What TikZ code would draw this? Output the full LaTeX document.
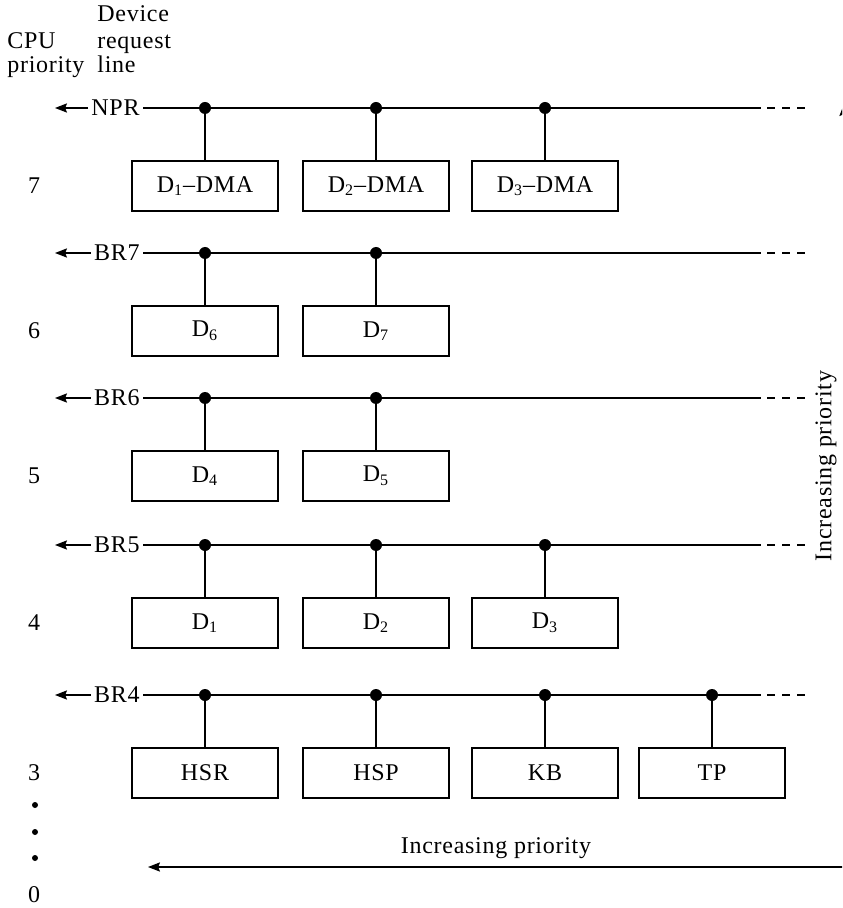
\documentclass[tikz,border=0pt]{standalone}
\usepackage{fontspec}
\setmainfont{Liberation Serif}[LetterSpace=3]
\usetikzlibrary{arrows.meta}

\tikzset{
  dev/.style={draw,line width=.7pt,minimum width=73pt,minimum height=25pt,inner sep=0pt},
  bus/.style={line width=.7pt},
  reqlabel/.style={anchor=east,inner sep=1.5pt},
  reqarrow/.style={line width=.7pt,-{Stealth[length=6pt,width=4.6pt,inset=.9pt]}},
  tapdot/.style={fill=black}
}

\begin{document}
\begin{tikzpicture}[x=0.5pt,y=-0.5pt,font=\fontsize{12}{14}\selectfont]
      \useasboundingbox (0,0) rectangle (842,908);
      \clip (0,0) rectangle (842,908);
      % column heads
      \node[anchor=base west,inner sep=0pt] (cpu) at (7,49) {CPU};
      \node[anchor=base west,inner sep=0pt] (cpuprio) at (7,73) {priority};
      \node[anchor=base west,inner sep=0pt] (head1) at (97,22) {Device};
      \node[anchor=base west,inner sep=0pt] (head2) at (97,49) {request};
      \node[anchor=base west,inner sep=0pt] (head3) at (97,73) {line};
      % request lines
      \foreach \y/\req/\pri [count=\r] in {108/NPR/7,253/BR7/6,398/BR6/5,545/BR5/4,695/BR4/3} {
        \node[reqlabel] (req\r) at (143,\y) {\req};
        \coordinate (reqend\r) at (55,\y);
        \coordinate (solid\r) at (761,\y);
        \coordinate (dashA\r) at (767,\y);
        \coordinate (dashB\r) at (806,\y);
        \draw[reqarrow] (req\r) -- (reqend\r);
        \draw[bus] (req\r) -- (solid\r);
        \draw[bus,dash pattern=on 4pt off 3.5pt] (dashA\r) -- (dashB\r);
        \node (pri\r) at (34,\y+78) {\pri};
      }
      % devices
      \foreach \x/\y/\name/\txt in {
          205/108/dmaA/D\textsubscript{1}--DMA, 376/108/dmaB/D\textsubscript{2}--DMA, 545/108/dmaC/D\textsubscript{3}--DMA,
          205/253/devF/D\textsubscript{6}, 376/253/devG/D\textsubscript{7},
          205/398/devD/D\textsubscript{4}, 376/398/devE/D\textsubscript{5},
          205/545/devA/D\textsubscript{1}, 376/545/devB/D\textsubscript{2}, 545/545/devC/D\textsubscript{3},
          205/695/hsr/HSR, 376/695/hsp/HSP, 545/695/kb/KB, 712/695/tp/TP} {
        \node[dev] (\name) at (\x,\y+78) {\txt};
        \coordinate (tap\name) at (\x,\y);
        \draw[bus] (tap\name) -- (\name);
        \fill[tapdot] (tap\name) circle (3pt);
      }
      % lower priorities
      \foreach \y [count=\i] in {805,832,858} {
        \fill (35,\y) circle (1.5pt);
      }
      \node (pri0) at (34,895) {0};
      % priority arrows
      \coordinate (prright) at (844,867);
      \coordinate (prleft) at (148,867);
      \coordinate (prtop) at (844,104);
      \draw[reqarrow] (prright) -- node[above=4pt,inner sep=0pt] (hprio) {Increasing priority} (prleft);
      \draw[reqarrow] (prright) -- (prtop);
      \node[rotate=90,inner sep=0pt] (vprio) at (826,466) {Increasing priority};
    \end{tikzpicture}
\end{document}
